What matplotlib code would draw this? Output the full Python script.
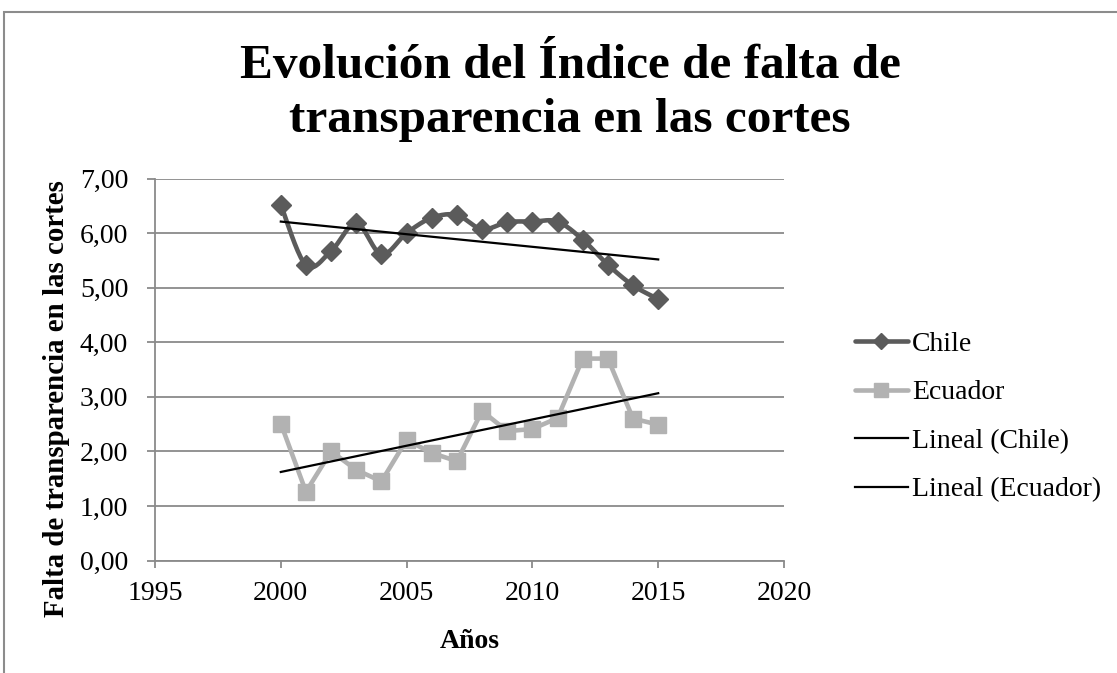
import numpy as np
import matplotlib
matplotlib.use("Agg")
import matplotlib.pyplot as plt
from matplotlib.patches import Rectangle
from matplotlib.lines import Line2D

years = [2000, 2001, 2002, 2003, 2004, 2005, 2006, 2007,
         2008, 2009, 2010, 2011, 2012, 2013, 2014, 2015]
chile = [6.52, 5.41, 5.67, 6.18, 5.61, 6.00, 6.28, 6.33,
         6.07, 6.20, 6.21, 6.21, 5.88, 5.42, 5.04, 4.79]
ecuador = [2.51, 1.26, 2.00, 1.66, 1.45, 2.21, 1.97, 1.82,
           2.74, 2.37, 2.41, 2.61, 3.70, 3.70, 2.60, 2.49]
yticks = [0, 1, 2, 3, 4, 5, 6, 7]
xticks = [1995, 2000, 2005, 2010, 2015, 2020]
title_lines = ['Evolución del Índice de falta de', 'transparencia en las cortes']

plt.rcParams['font.family'] = ['Liberation Serif', 'DejaVu Serif']

def catmull_rom(x, y, n=20):
    x = np.asarray(x, float); y = np.asarray(y, float)
    px = np.concatenate([[x[0]], x, [x[-1]]])
    py = np.concatenate([[y[0]], y, [y[-1]]])
    ox, oy = [], []
    t = np.linspace(0, 1, n, endpoint=False)
    for i in range(1, len(px) - 2):
        p0, p1, p2, p3 = (np.array([px[j], py[j]]) for j in (i - 1, i, i + 1, i + 2))
        c1 = p1 + (p2 - p0) / 6
        c2 = p2 - (p3 - p1) / 6
        for tt in t:
            b = ((1 - tt) ** 3) * p1 + 3 * ((1 - tt) ** 2) * tt * c1 + 3 * (1 - tt) * tt ** 2 * c2 + tt ** 3 * p2
            ox.append(b[0]); oy.append(b[1])
    ox.append(x[-1]); oy.append(y[-1])
    return np.array(ox), np.array(oy)

W, H = 1117, 673
fig = plt.figure(figsize=(W / 100, H / 100), dpi=100)
L, R, T, B = 155, 784, 178.5, 560.5
ax = fig.add_axes([L / W, 1 - B / H, (R - L) / W, (B - T) / H])

c_chile = '#5b5b5b'
c_ecu = '#b2b2b2'

sx, sy = catmull_rom(years, chile)
ax.plot(sx, sy, color=c_chile, lw=3.3, solid_capstyle='round', zorder=3)
ax.plot(years, chile, ls='none', marker='D', ms=10.5, color=c_chile, zorder=4)

ax.plot(years, ecuador, color=c_ecu, lw=3.3, solid_capstyle='round', zorder=3,
        marker='s', ms=11.5, mec=c_ecu)

yr = np.array(years, float)
for data in (chile, ecuador):
    m, b = np.polyfit(yr, data, 1)
    ax.plot([yr[0], yr[-1]], [m * yr[0] + b, m * yr[-1] + b], color='black', lw=1.6, zorder=5)

ax.set_xlim(1995, 2020)
ax.set_ylim(0, 7)
ax.set_xticks(xticks)
ax.set_yticks(yticks)
ax.set_yticklabels([f"{v:.2f}".replace('.', ',') for v in yticks])
ax.tick_params(labelsize=20, color='#8a8a8a', width=1.3)
ax.tick_params(axis='y', length=5.8, pad=13.5)
ax.tick_params(axis='x', length=5, pad=9.5)
ax.grid(axis='y', color='#8a8a8a', lw=1.3)
ax.set_axisbelow(True)
for s in ('top', 'right'):
    ax.spines[s].set_visible(False)
for s in ('left', 'bottom'):
    ax.spines[s].set_color('#8a8a8a')
    ax.spines[s].set_linewidth(1.3)

ax.set_xlabel('Años', fontsize=20, fontweight='bold')
ax.set_ylabel('Falta de transparencia en las cortes', fontsize=20.8, fontweight='bold')
ax.xaxis.set_label_coords((470 - L) / (R - L), -(641 - B) / (B - T))
ax.yaxis.set_label_coords(-(L - 57) / (R - L), (B - 399) / (B - T))
ax.xaxis.label.set_va('center')
ax.yaxis.label.set_va('center')

for line, yb in zip(title_lines, (78, 132)):
    fig.text(570 / W, 1 - yb / H, line, ha='center', va='baseline',
             fontsize=35.5, fontweight='bold')

handles = [
    Line2D([], [], color=c_chile, lw=3.3, marker='D', ms=8, solid_capstyle='round'),
    Line2D([], [], color=c_ecu, lw=3.3, marker='s', ms=10, solid_capstyle='round'),
    Line2D([], [], color='black', lw=1.6),
    Line2D([], [], color='black', lw=1.6),
]
labels = ['Chile', 'Ecuador', 'Lineal (Chile)', 'Lineal (Ecuador)']
fig.legend(handles, labels, loc='center left', bbox_to_anchor=(855 / W, 1 - 417 / H),
           frameon=False, fontsize=20, handlelength=1.9, handletextpad=0.15,
           labelspacing=0.83, borderaxespad=0, borderpad=0)

fig.patches.append(Rectangle((4 / W, -0.1), 1.2, 1 - 12 / H + 0.1, transform=fig.transFigure,
                             fill=False, ec='#8c8c8c', lw=1.5))

fig.savefig('out.png', dpi=100)
